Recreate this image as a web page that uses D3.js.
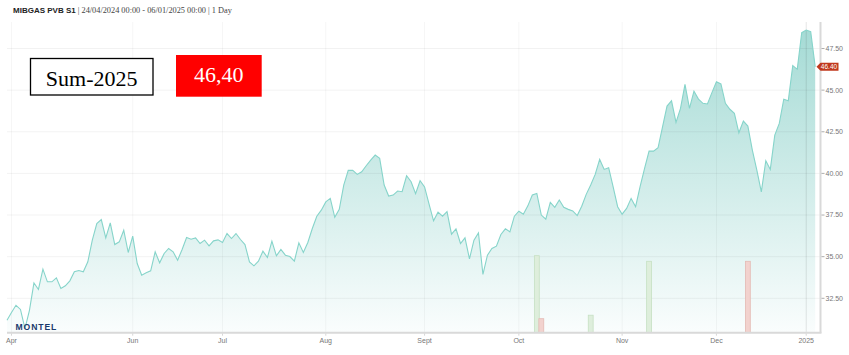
<!DOCTYPE html>
<html><head><meta charset="utf-8">
<script src="https://cdn.jsdelivr.net/npm/d3@7/dist/d3.min.js"></script>
<style>html,body{margin:0;padding:0;background:#fff;}svg{display:block;}</style>
</head><body>
<svg id="chart" width="849" height="355"></svg>
<script>
// ---- data (trading-day index from 24/04/2024 to 06/01/2025) ----
const prices = [
31.18,31.65,32.08,31.83,30.68,31.78,33.42,33.03,34.25,33.49,
33.49,33.73,33.09,33.25,33.55,34.09,34.17,34.09,34.69,35.99,
36.99,37.23,36.13,37.03,35.73,35.89,36.59,35.25,36.23,34.59,
33.89,34.03,34.15,35.29,34.63,35.19,35.49,35.29,34.79,35.43,
36.15,36.05,36.13,35.79,35.99,35.65,35.95,36.01,35.85,36.39,
36.09,36.39,36.03,35.73,34.69,34.45,34.73,35.33,34.95,35.93,
35.05,35.43,35.09,35.01,34.73,35.83,35.25,35.85,36.69,37.43,
37.79,38.29,38.50,37.36,37.84,39.30,40.18,40.18,39.94,40.10,
40.46,40.80,41.10,40.90,39.30,38.64,38.70,38.94,38.90,39.86,
39.50,38.78,39.56,39.19,38.15,37.15,37.67,37.43,37.71,36.35,
36.67,35.79,36.13,34.87,35.99,36.43,33.93,35.09,35.49,35.63,
36.33,36.67,36.49,37.43,37.73,37.55,38.05,38.70,38.80,37.50,
37.25,38.26,37.96,38.40,37.96,37.84,37.75,37.47,38.03,38.74,
39.30,39.94,40.84,40.24,40.34,39.19,38.00,37.55,37.90,38.50,
38.00,39.20,40.30,41.34,41.34,41.54,42.80,44.04,44.36,43.06,
43.90,45.35,43.90,44.94,44.46,44.21,44.17,44.85,45.50,45.37,
44.21,43.85,43.61,42.44,43.14,42.84,41.40,40.20,38.89,40.76,
40.24,42.30,43.00,44.46,44.36,46.47,46.25,48.45,48.61,48.51,
46.40];
const volumeIdx   = [118, 119, 130, 143, 165];
const volumeVals  = [55, 10, 12.5, 51, 51];
const volumeDir   = ["up", "down", "up", "up", "down"];
const xTickIdx    = [1, 28, 48, 71, 93, 114, 137, 158, 178];
const xTickLabels = ["Apr","Jun","Jul","Aug","Sept","Oct","Nov","Dec","2025"];
const yTicks      = [32.5, 35, 37.5, 40, 42.5, 45, 47.5];
const titleMain   = "MIBGAS PVB S1";
const titleRest   = " | 24/04/2024 00:00 - 06/01/2025 00:00 | 1 Day";
const boxLabel    = "Sum-2025";
const boxValue    = "46,40";
const lastValue   = prices[prices.length - 1];

// ---- layout ----
const svg = d3.select("#chart");
const pLeft = 7, pRight = 820.5, pTop = 22, pBottom = 332.7;
const x = d3.scaleLinear().domain([0, 180]).range([pLeft, 815.2]);
const y = d3.scaleLinear().domain([32.5, 47.5]).range([298.3, 48.5]);
const yv = d3.scaleLinear().domain([0, 100]).range([pBottom, pBottom - 140]);

// gradient
const defs = svg.append("defs");
const grad = defs.append("linearGradient").attr("id","ag")
  .attr("gradientUnits","userSpaceOnUse").attr("x1",0).attr("x2",0).attr("y1",pTop).attr("y2",pBottom);
grad.append("stop").attr("offset","0").attr("stop-color","#a3dad4");
grad.append("stop").attr("offset","1").attr("stop-color","#fafdfd");

// area
const area = d3.area().x((d,i)=>x(i)).y0(pBottom).y1(d=>y(d));
svg.append("path").datum(prices).attr("d", area).attr("fill","url(#ag)");

// grid
const g = svg.append("g");
g.selectAll("line.h").data(yTicks).join("line")
  .attr("x1", pLeft).attr("x2", pRight).attr("y1", d=>y(d)).attr("y2", d=>y(d))
  .attr("stroke","rgba(0,0,0,0.05)").attr("stroke-width",1);
g.selectAll("line.v").data(xTickIdx).join("line")
  .attr("x1", d=>x(d)).attr("x2", d=>x(d)).attr("y1", pTop).attr("y2", pBottom)
  .attr("stroke", (d,i)=> xTickLabels[i]==="2025" ? "rgba(0,0,0,0.10)" : "rgba(0,0,0,0.04)")
  .attr("stroke-width",1);

// volume bars
const bw = x(1) - x(0) + 0.4;
svg.selectAll("rect.vol").data(volumeVals).join("rect")
  .attr("x", (d,i)=> x(volumeIdx[i]) - bw/2)
  .attr("y", d=> yv(d))
  .attr("width", bw)
  .attr("height", d=> pBottom - yv(d))
  .attr("fill", (d,i)=> volumeDir[i]==="up" ? "#deeedc" : "#f2d2ce")
  .attr("stroke", (d,i)=> volumeDir[i]==="up" ? "#c6e0c3" : "#e4bab4")
  .attr("stroke-width", 0.8);

// line
const line = d3.line().x((d,i)=>x(i)).y(d=>y(d));
svg.append("path").datum(prices).attr("d", line)
  .attr("fill","none").attr("stroke","#86d4ca").attr("stroke-width",1.1);

// axes lines
svg.append("line").attr("x1", pLeft).attr("x2", pRight+1).attr("y1", pBottom).attr("y2", pBottom)
  .attr("stroke","#d9d9d9").attr("stroke-width",2);
svg.append("line").attr("x1", pRight).attr("x2", pRight).attr("y1", pTop).attr("y2", pBottom)
  .attr("stroke","#d9d9d9").attr("stroke-width",2);

// y axis labels (right)
const yAxis = svg.append("g");
yAxis.selectAll("line").data(yTicks).join("line")
  .attr("x1", pRight+1).attr("x2", pRight+4).attr("y1", d=>y(d)).attr("y2", d=>y(d))
  .attr("stroke","#999").attr("stroke-width",0.8);
yAxis.selectAll("text").data(yTicks).join("text")
  .attr("x", pRight+5).attr("y", d=>y(d)).attr("dy","0.35em")
  .attr("font-family","Liberation Sans, Arial, sans-serif").attr("font-size",7)
  .attr("fill","#777").text(d=>d3.format(".2f")(d));

// x axis labels
const xAxis = svg.append("g");
xAxis.selectAll("line").data(xTickIdx).join("line")
  .attr("x1", d=>x(d)).attr("x2", d=>x(d)).attr("y1", pBottom+1).attr("y2", pBottom+3)
  .attr("stroke","#ccc").attr("stroke-width",0.8);
xAxis.selectAll("text").data(xTickLabels).join("text")
  .attr("x", (d,i)=>x(xTickIdx[i])).attr("y", 342.5).attr("text-anchor","middle")
  .attr("font-family","Liberation Sans, Arial, sans-serif").attr("font-size",7)
  .attr("fill","#777").text(d=>d);

// last price tag
const ly = y(lastValue);
svg.append("path")
  .attr("d", `M${pRight-4},${ly} L${pRight},${ly-4} L${pRight+18},${ly-4} L${pRight+18},${ly+4} L${pRight},${ly+4} Z`)
  .attr("fill","#c0391d");
svg.append("text").attr("x", pRight+8.5).attr("y", ly).attr("dy","0.35em").attr("text-anchor","middle")
  .attr("font-family","Liberation Sans, Arial, sans-serif").attr("font-size",6.5)
  .attr("fill","#fff").text(d3.format(".2f")(lastValue));

// title
const t = svg.append("text").attr("x", 13).attr("y", 12.5).attr("font-size", 8);
t.append("tspan").attr("font-family","Liberation Sans, Arial, sans-serif").attr("font-weight","bold")
  .attr("fill","#222").text(titleMain);
t.append("tspan").attr("font-family","Liberation Serif, Georgia, serif").attr("font-size",8.3)
  .attr("fill","#444").text(titleRest);

// MONTEL logo text
svg.append("text").attr("x", 15.5).attr("y", 329.5)
  .attr("font-family","Liberation Sans, Arial, sans-serif").attr("font-weight","bold")
  .attr("font-size", 8.6).attr("letter-spacing", 0.9).attr("fill","#1b3a6c").text("MONTEL");

// annotation boxes
svg.append("rect").attr("x", 30.5).attr("y", 58.5).attr("width", 122.5).attr("height", 36.5)
  .attr("fill","#fff").attr("stroke","#000").attr("stroke-width",1.3);
svg.append("text").attr("x", 91.7).attr("y", 85.5).attr("text-anchor","middle")
  .attr("font-family","Liberation Serif, Times New Roman, serif").attr("font-size",22)
  .attr("fill","#000").text(boxLabel);
svg.append("rect").attr("x", 176).attr("y", 55).attr("width", 85.7).attr("height", 41.7)
  .attr("fill","#ff0000");
svg.append("text").attr("x", 218.8).attr("y", 81.7).attr("text-anchor","middle")
  .attr("font-family","Liberation Serif, Times New Roman, serif").attr("font-size",22)
  .attr("fill","#fff").text(boxValue);
</script>
</body></html>
